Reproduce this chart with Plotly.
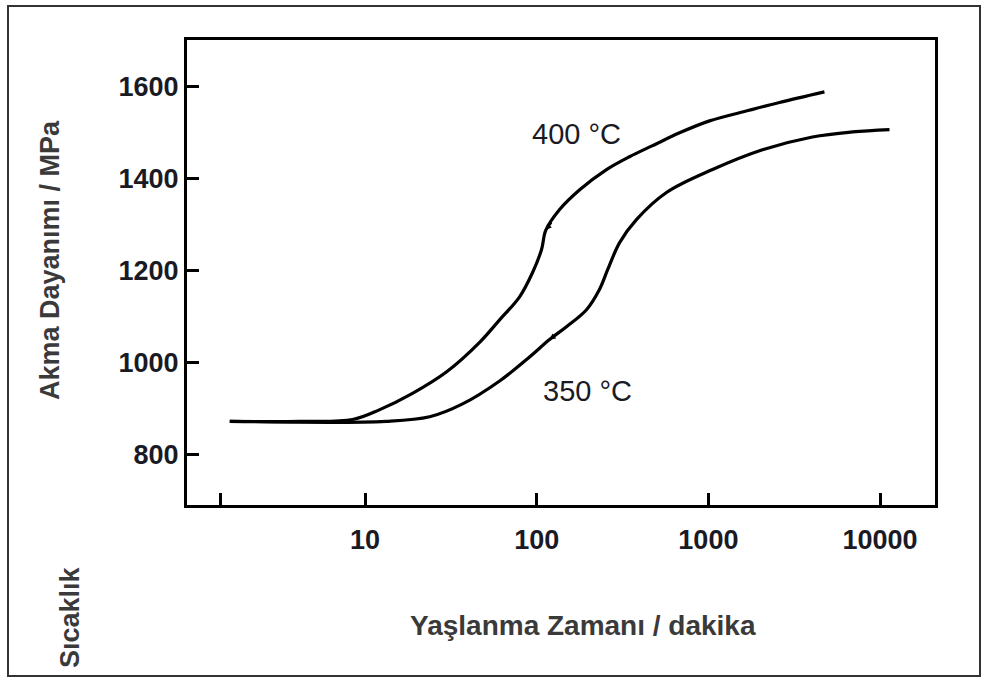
import math
import plotly.graph_objects as go

# Data (time in minutes, yield strength in MPa)
t_400 = [1.63, 4.16, 8.46, 12.1, 18.9, 29.9, 46.5, 60.8, 79.5, 94.6, 106.7, 113, 136, 178, 255, 347, 473, 679, 1016, 1727, 2593, 4742]
y_400 = [872, 872, 876, 897, 933, 980, 1044, 1093, 1143, 1196, 1246, 1288, 1333, 1376, 1420, 1448, 1472, 1500, 1526, 1549, 1566, 1589]

t_350 = [1.63, 13.3, 23.8, 37.0, 60.8, 90.8, 118.8, 149, 195, 232, 259, 304, 381, 570, 1057, 2066, 4036, 6902, 11350]
y_350 = [872, 872, 882, 910, 960, 1012, 1050, 1078, 1115, 1159, 1202, 1261, 1311, 1370, 1420, 1463, 1491, 1502, 1507]

x_tickvals = [1.44, 10, 100, 1000, 10000]
x_ticktext = ["", "10", "100", "1000", "10000"]
y_tickvals = [800, 1000, 1200, 1400, 1600]
y_ticktext = ["800", "1000", "1200", "1400", "1600"]

# small arrow marks on the curves (time, MPa)
arrow_t = [113, 118.8]
arrow_y = [1288, 1050]
arrow_dx = [7, 8]
arrow_dy = [-9, -6]

FONT = "Arial, Liberation Sans, sans-serif"

fig = go.Figure()
for t, y in [(t_400, y_400), (t_350, y_350)]:
    fig.add_trace(go.Scatter(x=t, y=y, mode="lines",
                             line=dict(color="black", width=3.2, shape="spline", smoothing=1.0),
                             hoverinfo="skip", showlegend=False))

W, H = 987, 680
L, R, T, B = 187, 935, 40, 505
pw, ph = R - L, B - T

def px(x):
    return (x - L) / pw

def py(y):
    return (B - y) / ph

fig.update_layout(
    width=W, height=H,
    margin=dict(l=L, r=W - R, t=T, b=H - B),
    paper_bgcolor="white", plot_bgcolor="white",
    showlegend=False,
    font=dict(family=FONT),
)
fig.update_xaxes(type="log", range=[-0.037, 4.32], showgrid=False, zeroline=False,
                 showline=True, linecolor="black", linewidth=3, mirror=True,
                 ticks="inside", ticklen=12, tickwidth=3, tickcolor="black",
                 tickvals=x_tickvals, ticktext=x_ticktext, ticklabelstandoff=9,
                 tickfont=dict(size=27, color="#1a1a24", family=FONT, weight="bold"))
fig.update_yaxes(range=[690, 1702], showgrid=False, zeroline=False,
                 showline=True, linecolor="black", linewidth=3, mirror=True,
                 ticks="inside", ticklen=12, tickwidth=3, tickcolor="black",
                 tickvals=y_tickvals, ticktext=y_ticktext,
                 tickfont=dict(size=27, color="#1a1a24", family=FONT, weight="bold"))

# Outer frame
fig.add_shape(type="rect", xref="paper", yref="paper",
              x0=px(8), x1=px(980), y0=py(676), y1=py(6),
              line=dict(color="#333333", width=2), layer="below")

ann = [
    dict(text="Akma Dayanımı / MPa", x=px(50), y=py(260), textangle=-90, size=27, bold=True, color="#3a3a3a"),
    dict(text="Yaşlanma Zamanı / dakika", x=px(583), y=py(625), textangle=0, size=28, bold=True, color="#3a3a3a"),
    dict(text="Sıcaklık", x=px(70), y=py(617), textangle=-90, size=27, bold=True, color="#3a3a3a"),
    dict(text="400 °C", x=px(576), y=py(134), textangle=0, size=29, bold=False, color="#1a1a24"),
    dict(text="350 °C", x=px(587), y=py(391), textangle=0, size=29, bold=False, color="#1a1a24"),
]
for a in ann:
    fig.add_annotation(text=a["text"], x=a["x"], y=a["y"], xref="paper", yref="paper",
                       showarrow=False, textangle=a["textangle"], xanchor="center", yanchor="middle",
                       font=dict(size=a["size"], color=a["color"], family=FONT,
                                 weight="bold" if a["bold"] else "normal"))

for t, y, dx, dy in zip(arrow_t, arrow_y, arrow_dx, arrow_dy):
    fig.add_annotation(x=math.log10(t), y=y, xref="x", yref="y", text="",
                       showarrow=True, arrowhead=2, arrowsize=0.8, arrowwidth=1.5,
                       arrowcolor="black", ax=dx, ay=dy, standoff=0)

fig.write_html("out.html")
